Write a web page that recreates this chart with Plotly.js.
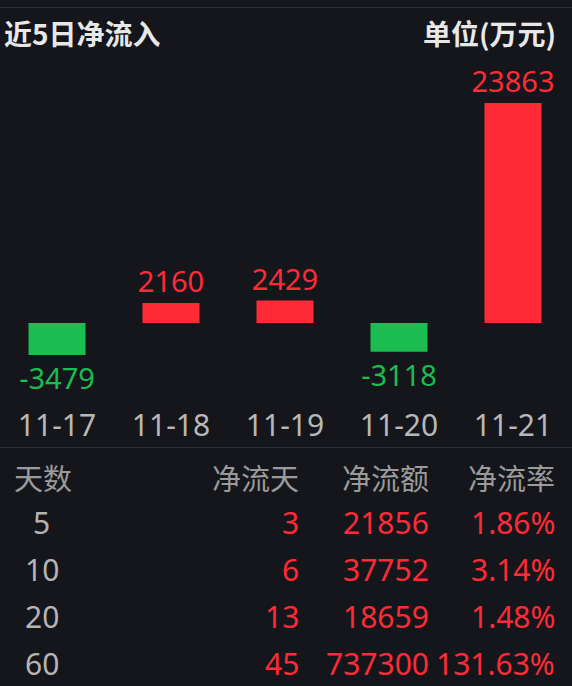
<!DOCTYPE html>
<html>
<head>
<meta charset="utf-8">
<script src="https://cdn.plot.ly/plotly-3.0.1.min.js"></script>
<style>
  html, body { margin: 0; padding: 0; background: #14161b; }
  #chart { width: 572px; height: 686px; }
</style>
</head>
<body>
<div id="chart"></div>
<script>
// 近5日净流入 (单位: 万元)
const dates = ['11-17', '11-18', '11-19', '11-20', '11-21'];
const netFlow = [-3479, 2160, 2429, -3118, 23863];

// 区间统计表
const tableHeader = ['天数', '净流天', '净流额', '净流率'];
const periodDays = ['5', '10', '20', '60'];
const inflowDays = ['3', '6', '13', '45'];
const inflowAmount = ['21856', '37752', '18659', '737300'];
const inflowRate = ['1.86%', '3.14%', '1.48%', '131.63%'];

const RED = '#fe2b37';
const GREEN = '#1bbc50';
const BG = '#14161b';
const FONT = '"Noto Sans", "Noto Sans CJK SC", sans-serif';
const CJK = '"Noto Sans CJK SC", "Noto Sans", sans-serif';

const W = 572, H = 686;
const M = { l: 0, r: 2, t: 60, b: 281 };
const plotW = W - M.l - M.r;
const plotH = H - M.t - M.b;
// page pixel -> paper coordinates
const px = x => (x - M.l) / plotW;
const py = y => (H - M.b - y) / plotH;

const colors = netFlow.map(v => (v >= 0 ? RED : GREEN));

const trace = {
  type: 'bar',
  x: dates,
  y: netFlow,
  marker: { color: colors, line: { width: 0 } },
  text: netFlow.map(String),
  textposition: 'outside',
  constraintext: 'none',
  cliponaxis: false,
  textfont: { family: FONT, size: 29, color: colors },
  hoverinfo: 'skip'
};

const annotations = [];
function label(text, x, y, anchor, color, size, family, weight) {
  annotations.push({
    text: text, xref: 'paper', yref: 'paper',
    x: px(x), y: py(y), xanchor: anchor, yanchor: 'middle',
    showarrow: false,
    font: { family: family, size: size, color: color, weight: weight || 'normal' }
  });
}

// section headings
label('近5日净流入', 2, 33, 'left', '#e8e8e8', 28, CJK, 'bold');
label('单位(万元)', 558, 33, 'right', '#e8e8e8', 28, CJK, 'bold');

// table
const headerY = 477;
const rowY = [522, 569, 616, 663];
const GREY_HEAD = '#9b9b9b';
const GREY_CELL = '#b4b4b4';
label(tableHeader[0], 43, headerY, 'center', GREY_HEAD, 29, CJK);
label(tableHeader[1], 301, headerY, 'right', GREY_HEAD, 29, CJK);
label(tableHeader[2], 431, headerY, 'right', GREY_HEAD, 29, CJK);
label(tableHeader[3], 557, headerY, 'right', GREY_HEAD, 29, CJK);
rowY.forEach((y, i) => {
  label(periodDays[i], 42, y, 'center', GREY_CELL, 30, FONT);
  label(inflowDays[i], 301, y, 'right', RED, 30, FONT);
  label(inflowAmount[i], 431, y, 'right', RED, 30, FONT);
  label(inflowRate[i], 557, y, 'right', RED, 30, FONT);
});

const divider = y => ({
  type: 'line', xref: 'paper', yref: 'paper',
  x0: px(0), x1: px(W), y0: py(y), y1: py(y),
  line: { color: '#2c2f36', width: 1 }
});

const layout = {
  width: W, height: H, autosize: false,
  margin: M,
  paper_bgcolor: BG, plot_bgcolor: BG,
  showlegend: false,
  bargap: 0.5,
  font: { family: FONT },
  xaxis: {
    type: 'category',
    showgrid: false, zeroline: false, showline: false,
    ticks: '',
    tickfont: { family: FONT, size: 30, color: '#b8b8b8' },
    fixedrange: true
  },
  yaxis: {
    visible: false,
    range: [-8895, 28530],
    showgrid: false, zeroline: false,
    fixedrange: true
  },
  shapes: [divider(7.5), divider(447.5)],
  annotations: annotations
};

Plotly.newPlot('chart', [trace], layout, { displayModeBar: false, staticPlot: true });
</script>
</body>
</html>
